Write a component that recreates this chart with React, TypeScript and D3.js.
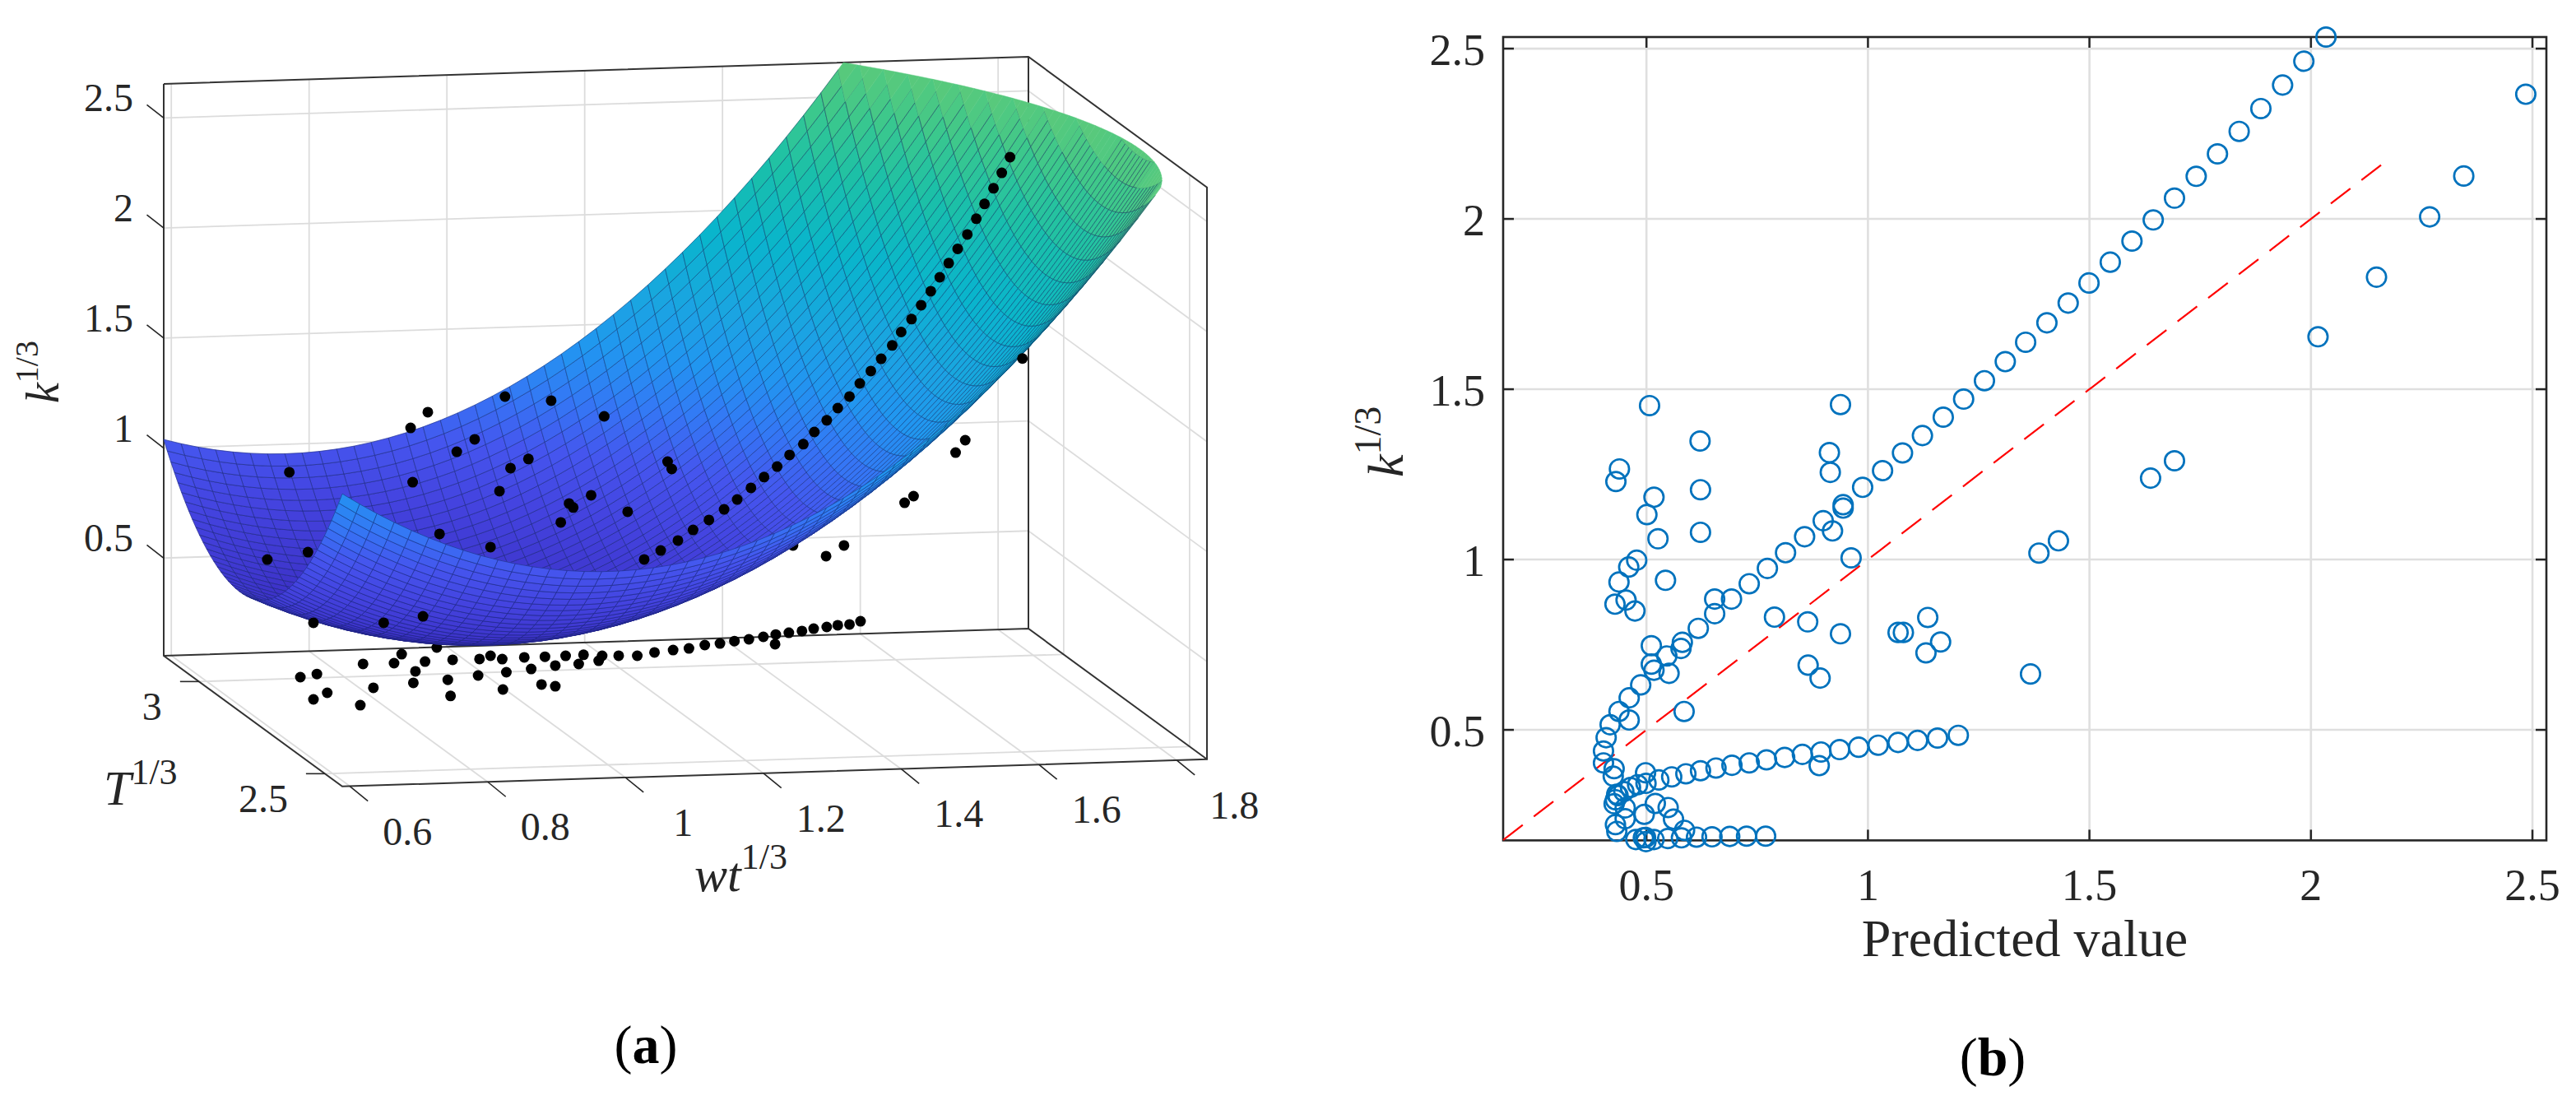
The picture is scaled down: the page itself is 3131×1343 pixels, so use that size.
import * as d3 from "d3";

const WIDTH = 3131;
const HEIGHT = 1343;
const SERIF = "'Liberation Serif', 'DejaVu Serif', serif";
const INK = "#262626";

// ---------- panel (a): surface + scattered data ----------
const wtTicks = [0.6, 0.8, 1, 1.2, 1.4, 1.6, 1.8];
const tempTicks = [3, 2.5];
const kTicks = [0.5, 1, 1.5, 2, 2.5];

const wtLimits = [0.589, 1.844];
const tempLimits = [3.14, 2.431];
const kLimits = [0.056, 2.655];

// readings of the fitted surface (rows: temperature, columns: wt)
const surfaceWt = [0.589, 1.217, 1.846];
const surfaceTemp = [3.14, 2.786, 2.431];
const surfaceK = [
  [1.039, 1.483, 3.982],
  [0.612, 0.714, 2.871],
  [1.386, 1.145, 2.96],
];
const meshCells = 50;

// all measured points sit on one temperature level
const dotTemp = 2.726;
const dotWt = [
  1.666, 1.654, 1.642, 1.629, 1.617, 1.604, 1.59, 1.577, 1.564, 1.551, 1.537, 1.523, 1.508, 1.495, 1.479, 1.464, 1.448,
  1.433, 1.416, 1.4, 1.382, 1.366, 1.346, 1.328, 1.309, 1.29, 1.27, 1.251, 1.229, 1.206, 1.184, 1.159, 1.135,
  1.449, 1.433, 1.416, 1.4, 1.381, 1.364, 1.345, 1.326, 1.325, 1.308, 1.287, 1.266, 1.245, 1.223, 1.2, 1.177, 1.15,
  1.125, 1.098, 1.074, 1.069, 1.047, 1.04, 1.021, 1.006, 0.991, 0.971, 0.961, 0.935, 0.929, 0.912, 0.896, 0.894, 0.857,
  0.817, 0.772, 0.727, 0.783, 0.803, 0.85, 0.8, 0.66, 0.636, 0.742, 0.986, 1.006, 0.93, 0.854, 0.675, 0.655, 0.723,
  0.62, 0.799, 0.796, 0.821, 0.933, 1.0, 1.077, 0.889, 0.863, 0.967, 0.941, 0.925, 1.058, 1.026, 1.032, 1.111, 1.014,
  0.838, 0.912, 0.588, 0.647, 1.169, 1.175, 0.655, 0.757, 0.814,
  1.425, 1.399, 1.513, 1.526, 1.587, 1.601, 1.684,
];
const dotK = [
  2.563, 2.493, 2.424, 2.354, 2.288, 2.218, 2.154, 2.09, 2.027, 1.965, 1.903, 1.841, 1.784, 1.724, 1.665, 1.611, 1.556,
  1.498, 1.447, 1.393, 1.342, 1.288, 1.241, 1.19, 1.144, 1.097, 1.046, 1.003, 0.957, 0.914, 0.868, 0.825, 0.787,
  0.475, 0.462, 0.46, 0.454, 0.448, 0.439, 0.433, 0.427, 0.383, 0.418, 0.409, 0.403, 0.394, 0.389, 0.376, 0.371, 0.363,
  0.35, 0.353, 0.355, 0.333, 0.362, 0.321, 0.36, 0.317, 0.359, 0.305, 0.359, 0.294, 0.354, 0.371, 0.358, 0.283, 0.358,
  0.354, 0.351, 0.352, 0.391, 0.311, 0.268, 0.259, 0.313, 0.301, 0.242, 0.233, 0.223, 0.216, 0.194, 0.226, 0.198, 0.165,
  1.234, 1.171, 1.418, 1.487, 1.547, 1.522, 1.443, 1.357, 1.303, 1.26, 1.221, 1.118, 1.086, 1.052, 1.033, 1.006, 0.967,
  0.932, 0.865, 0.84, 0.868, 1.228, 1.194, 0.546, 0.536, 0.56,
  0.822, 0.776, 1.007, 1.036, 1.228, 1.283, 1.646,
];
// these two are partly covered by the surface
const behindWt = [0.834, 1.351];
const behindK = [0.416, 0.829];

const surfaceColor = d3
  .scaleLinear<string>()
  .domain([0.45, 0.6, 0.8, 1, 1.2, 1.4, 1.6, 1.9, 2.2, 2.45, 2.65])
  .range(["#3a2cc0", "#3f38d0", "#4444e0", "#4555ee", "#3478f5", "#2196f0", "#1ba4e2", "#09b5cc", "#1bc0a8", "#3cc88c", "#58c97c"])
  .clamp(true);

// the view is orthographic, so each data axis just adds a fixed screen offset
const ORIGIN = { x: 199, y: 797 };
const wtX = d3.scaleLinear().domain(wtLimits).range([0, 1051]);
const wtY = d3.scaleLinear().domain(wtLimits).range([0, -33]);
const tempX = d3.scaleLinear().domain(tempLimits).range([0, 217]);
const tempY = d3.scaleLinear().domain(tempLimits).range([0, 158.8]);
const kY = d3.scaleLinear().domain(kLimits).range([0, -695]);

type P3 = [number, number, number];

const project = ([w, t, k]: P3): [number, number] => [
  ORIGIN.x + wtX(w) + tempX(t),
  ORIGIN.y + wtY(w) + tempY(t) + kY(k),
];

const line3d = (...pts: P3[]) => "M" + pts.map((p) => project(p).map((v) => v.toFixed(2)).join(",")).join("L");
const closed3d = (pts: P3[]) => line3d(...pts) + "Z";

const lagrange = (nodes: number[], values: number[], x: number) =>
  d3.sum(nodes, (n, i) => {
    let w = values[i];
    nodes.forEach((m, j) => {
      if (j !== i) w *= (x - m) / (n - m);
    });
    return w;
  });

const surfaceAt = (w: number, t: number) =>
  lagrange(
    surfaceTemp,
    surfaceK.map((row) => lagrange(surfaceWt, row, w)),
    t
  );

// cut a facet with the top of the box
const clipTop = (poly: P3[]) => {
  const top = kLimits[1];
  const out: P3[] = [];
  poly.forEach((a, i) => {
    const b = poly[(i + 1) % poly.length];
    if (a[2] <= top) out.push(a);
    if (a[2] <= top !== b[2] <= top) {
      const s = (top - a[2]) / (b[2] - a[2]);
      out.push([a[0] + (b[0] - a[0]) * s, a[1] + (b[1] - a[1]) * s, top]);
    }
  });
  return out;
};

const buildFacets = () => {
  const ws = d3.range(meshCells + 1).map((i) => d3.interpolateNumber(wtLimits[0], wtLimits[1])(i / meshCells));
  const ts = d3.range(meshCells + 1).map((i) => d3.interpolateNumber(tempLimits[0], tempLimits[1])(i / meshCells));
  const facets: { d: string; whole: boolean; color: string; depth: number }[] = [];
  for (let i = 0; i < meshCells; i++) {
    for (let j = 0; j < meshCells; j++) {
      const corners: P3[] = [
        [ws[i], ts[j], surfaceAt(ws[i], ts[j])],
        [ws[i + 1], ts[j], surfaceAt(ws[i + 1], ts[j])],
        [ws[i + 1], ts[j + 1], surfaceAt(ws[i + 1], ts[j + 1])],
        [ws[i], ts[j + 1], surfaceAt(ws[i], ts[j + 1])],
      ];
      const poly = clipTop(corners);
      if (poly.length < 3) continue;
      const cw = d3.mean(corners, (c) => c[0]) as number;
      const ct = d3.mean(corners, (c) => c[1]) as number;
      const ck = d3.mean(corners, (c) => c[2]) as number;
      facets.push({
        d: closed3d(poly),
        whole: corners.every((c) => c[2] <= kLimits[1]),
        color: surfaceColor(ck),
        depth: -0.366 * cw + (tempLimits[0] - ct) + 0.8737 * ck,
      });
    }
  }
  return facets.sort((a, b) => a.depth - b.depth);
};

const PanelA = () => {
  const [w0, w1] = wtLimits;
  const [t0, t1] = tempLimits;
  const [k0, k1] = kLimits;
  const grid = [
    ...wtTicks.map((w) => line3d([w, t0, k0], [w, t0, k1])),
    ...wtTicks.map((w) => line3d([w, t0, k0], [w, t1, k0])),
    ...kTicks.map((k) => line3d([w0, t0, k], [w1, t0, k])),
    ...kTicks.map((k) => line3d([w1, t0, k], [w1, t1, k])),
    ...tempTicks.map((t) => line3d([w0, t, k0], [w1, t, k0])),
    ...tempTicks.map((t) => line3d([w1, t, k0], [w1, t, k1])),
  ];
  const box = [
    line3d([w0, t0, k1], [w0, t0, k0], [w0, t1, k0], [w1, t1, k0], [w1, t1, k1], [w1, t0, k1], [w0, t0, k1]),
    line3d([w1, t0, k1], [w1, t0, k0]),
    line3d([w0, t0, k0], [w1, t0, k0], [w1, t1, k0]),
  ];
  const facets = buildFacets();

  return (
    <g fontFamily={SERIF} fill={INK}>
      {grid.map((d, i) => (
        <path key={i} d={d} fill="none" stroke="#dcdcdc" strokeWidth={1.8} />
      ))}
      {box.map((d, i) => (
        <path key={i} d={d} fill="none" stroke="#333" strokeWidth={2} />
      ))}

      {behindWt.map((w, i) => {
        const [x, y] = project([w, dotTemp, behindK[i]]);
        return <circle key={i} cx={x} cy={y} r={6.5} fill="#000" />;
      })}

      {facets.map((f, i) => (
        <g key={i}>
          <path d={f.d} fill={f.color} stroke={f.color} strokeWidth={0.5} />
          {f.whole && <path d={f.d} fill="none" stroke="#10205a" strokeOpacity={0.5} strokeWidth={0.9} />}
        </g>
      ))}

      {dotWt.map((w, i) => {
        const [x, y] = project([w, dotTemp, dotK[i]]);
        return <circle key={i} cx={x} cy={y} r={6.5} fill="#000" />;
      })}

      {/* ticks and labels */}
      {kTicks.map((k) => {
        const [x, y] = project([w0, t0, k]);
        return (
          <g key={k}>
            <line x1={x} y1={y} x2={x - 20.5} y2={y - 16} stroke={INK} strokeWidth={1.6} />
            <text x={x - 37} y={y - 8} textAnchor="end" fontSize={48}>
              {k}
            </text>
          </g>
        );
      })}
      {tempTicks.map((t) => {
        const [x, y] = project([w0, t, k0]);
        return (
          <g key={t}>
            <line x1={x} y1={y} x2={x - 23} y2={y} stroke={INK} strokeWidth={1.6} />
            <text x={x - 45} y={y + 47} textAnchor="end" fontSize={48}>
              {t}
            </text>
          </g>
        );
      })}
      {wtTicks.map((w) => {
        const [x, y] = project([w, t1, k0]);
        return (
          <g key={w}>
            <line x1={x} y1={y} x2={x + 22} y2={y + 18} stroke={INK} strokeWidth={1.6} />
            <text x={x + 70} y={y + 71} textAnchor="middle" fontSize={48}>
              {w}
            </text>
          </g>
        );
      })}

      <text transform="translate(71,490) rotate(-90)" fontSize={56}>
        <tspan fontStyle="italic">k</tspan>
        <tspan fontSize={40} dy={-25}>1/3</tspan>
      </text>
      <text x={126} y={978} fontSize={60}>
        <tspan fontStyle="italic">T</tspan>
        <tspan fontSize={44} dy={-25}>1/3</tspan>
      </text>
      <text x={844} y={1083} fontSize={60}>
        <tspan fontStyle="italic">wt</tspan>
        <tspan fontSize={44} dy={-27}>1/3</tspan>
      </text>
      <text x={785} y={1292} fontSize={66} textAnchor="middle" fill="#000">
        (<tspan fontWeight="bold">a</tspan>)
      </text>
    </g>
  );
};

// ---------- panel (b): measured vs predicted ----------
const predTicks = [0.5, 1, 1.5, 2, 2.5];
const measTicks = [0.5, 1, 1.5, 2, 2.5];

const predicted = [
  0.403, 0.409, 0.418, 0.438, 0.461, 0.461, 0.487, 0.511, 0.511, 0.517, 0.551, 0.546, 0.578, 0.581, 0.617, 0.654, 0.654,
  0.692, 0.732, 0.773, 0.814, 0.857, 0.899, 0.92, 0.944, 0.944, 0.988, 1.033, 1.078, 1.123, 1.17, 1.216, 1.263, 1.31,
  1.356, 1.404, 1.452, 1.499, 1.547, 1.596, 1.644, 1.692, 1.741, 1.789, 1.838, 1.887, 1.936, 1.984, 2.034,
  2.485, 2.345, 2.268, 2.148, 2.016, 1.692, 1.638, 1.43, 1.386, 1.367, 1.164, 1.135, 1.131, 1.068, 1.08, 0.938, 0.864,
  0.865, 0.892, 0.962, 0.789, 0.938, 0.913, 0.915, 0.507, 0.621, 0.622, 0.622, 0.439, 0.431, 0.517, 0.501, 0.526, 0.478,
  0.46, 0.438, 0.543, 0.454, 0.429, 0.474, 0.585,
  1.204, 1.157, 1.112, 1.068, 1.023, 0.979, 0.936, 0.894, 0.89, 0.852, 0.812, 0.771, 0.732, 0.693, 0.657, 0.622, 0.589,
  0.557, 0.528, 0.499, 0.498, 0.48, 0.464, 0.449, 0.436, 0.433, 0.43, 0.427, 0.427, 0.425, 0.403,
  0.452, 0.495, 0.52, 0.549, 0.561, 0.586, 0.452, 0.43, 0.433,
  0.476, 0.493, 0.498, 0.499, 0.517, 0.548, 0.579, 0.613, 0.648, 0.688, 0.726, 0.769,
];
const measured = [
  0.438, 0.477, 0.515, 0.554, 0.529, 0.594, 0.632, 0.693, 0.747, 0.675, 0.666, 0.717, 0.739, 0.757, 0.798, 0.841, 0.884,
  0.884, 0.929, 0.974, 1.02, 1.067, 1.114, 1.084, 1.161, 1.151, 1.212, 1.261, 1.313, 1.364, 1.418, 1.471, 1.525, 1.581,
  1.638, 1.695, 1.753, 1.812, 1.873, 1.935, 1.997, 2.061, 2.125, 2.191, 2.257, 2.324, 2.393, 2.463, 2.534,
  2.366, 2.126, 2.006, 1.829, 1.654, 1.29, 1.239, 1.055, 1.019, 0.664, 0.758, 0.83, 0.726, 0.786, 0.786, 0.782, 0.817,
  0.69, 0.652, 1.005, 0.831, 1.455, 1.314, 1.256, 1.452, 1.348, 1.205, 1.08, 1.266, 1.229, 1.183, 1.132, 1.061, 0.998,
  0.978, 0.934, 0.939, 0.881, 0.869, 0.849, 0.554,
  0.484, 0.476, 0.469, 0.463, 0.455, 0.449, 0.442, 0.435, 0.395, 0.428, 0.419, 0.412, 0.403, 0.396, 0.388, 0.38, 0.371,
  0.362, 0.353, 0.343, 0.374, 0.339, 0.331, 0.319, 0.307, 0.311, 0.295, 0.283, 0.386, 0.364, 0.403,
  0.271, 0.252, 0.284, 0.272, 0.238, 0.205, 0.239, 0.222, 0.202,
  0.178, 0.183, 0.184, 0.172, 0.178, 0.181, 0.183, 0.185, 0.186, 0.187, 0.188, 0.188,
];
const idealLine = [0.1765, 2.176];

const BOX = { left: 1827, right: 3095, top: 45, bottom: 1021.4 };
const xScale = d3.scaleLinear().domain([0.1765, 2.5315]).range([BOX.left, BOX.right]);
const yScale = d3.scaleLinear().domain([0.1755, 2.534]).range([BOX.bottom, BOX.top]);
const TICK = 13;

const PanelB = () => {
  const ideal = d3
    .line<number>()
    .x((d) => xScale(d))
    .y((d) => yScale(d))(idealLine) as string;

  return (
    <g fontFamily={SERIF} fill={INK}>
      {predTicks.map((t) => (
        <line key={t} x1={xScale(t)} x2={xScale(t)} y1={BOX.top} y2={BOX.bottom} stroke="#dfdfdf" strokeWidth={2.6} />
      ))}
      {measTicks.map((t) => (
        <line key={t} x1={BOX.left} x2={BOX.right} y1={yScale(t)} y2={yScale(t)} stroke="#dfdfdf" strokeWidth={2.6} />
      ))}

      {predTicks.map((t) => (
        <g key={t} stroke={INK} strokeWidth={2.5}>
          <line x1={xScale(t)} x2={xScale(t)} y1={BOX.bottom} y2={BOX.bottom - TICK} />
          <line x1={xScale(t)} x2={xScale(t)} y1={BOX.top} y2={BOX.top + TICK} />
        </g>
      ))}
      {measTicks.map((t) => (
        <g key={t} stroke={INK} strokeWidth={2.5}>
          <line x1={BOX.left} x2={BOX.left + TICK} y1={yScale(t)} y2={yScale(t)} />
          <line x1={BOX.right} x2={BOX.right - TICK} y1={yScale(t)} y2={yScale(t)} />
        </g>
      ))}
      <rect
        x={BOX.left}
        y={BOX.top}
        width={BOX.right - BOX.left}
        height={BOX.bottom - BOX.top}
        fill="none"
        stroke={INK}
        strokeWidth={2.6}
      />

      <path d={ideal} fill="none" stroke="#ff0000" strokeWidth={2.2} strokeDasharray="30 17" />
      {predicted.map((p, i) => (
        <circle key={i} cx={xScale(p)} cy={yScale(measured[i])} r={11.7} fill="none" stroke="#0072bd" strokeWidth={2.7} />
      ))}

      {predTicks.map((t) => (
        <text key={t} x={xScale(t)} y={1094} textAnchor="middle" fontSize={54}>
          {t}
        </text>
      ))}
      {measTicks.map((t) => (
        <text key={t} x={1805} y={yScale(t) + 20} textAnchor="end" fontSize={54}>
          {t}
        </text>
      ))}

      <text x={2461} y={1162} textAnchor="middle" fontSize={64}>
        Predicted value
      </text>
      <text transform="translate(1705,580) rotate(-90)" fontSize={62}>
        <tspan fontStyle="italic">k</tspan>
        <tspan fontSize={46} dy={-27}>1/3</tspan>
      </text>
      <text x={2422} y={1307} fontSize={66} textAnchor="middle" fill="#000">
        (<tspan fontWeight="bold">b</tspan>)
      </text>
    </g>
  );
};

export default function App() {
  return (
    <svg
      width={WIDTH}
      height={HEIGHT}
      viewBox={`0 0 ${WIDTH} ${HEIGHT}`}
      style={{ position: "absolute", left: 0, top: 0, display: "block", background: "#fff" }}
    >
      <PanelA />
      <PanelB />
    </svg>
  );
}
